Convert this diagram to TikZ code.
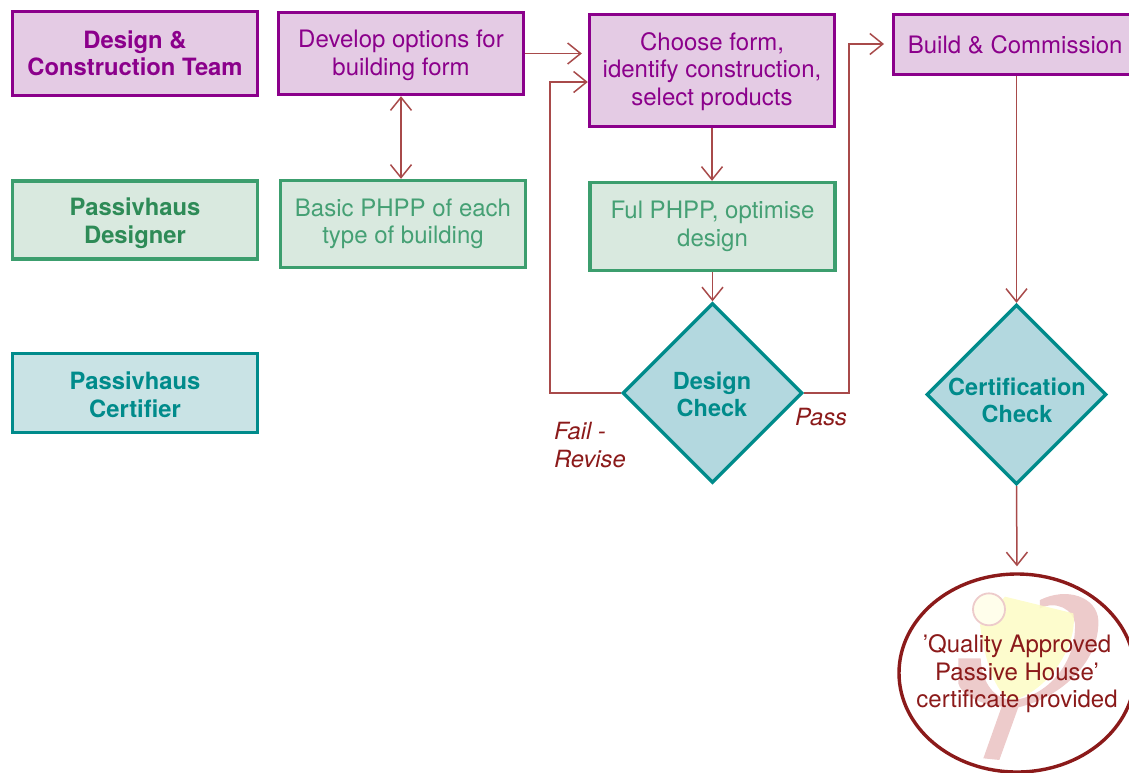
\documentclass[tikz,border=0pt]{standalone}
\usepackage{fontspec}
\setmainfont{TeX Gyre Heros}
\usetikzlibrary{arrows.meta,shapes.geometric}
\definecolor{teamink}{HTML}{8B008B}
\definecolor{teamfill}{HTML}{E4CBE4}
\definecolor{designink}{HTML}{3C9E6E}
\definecolor{designhead}{HTML}{2E8B57}
\definecolor{designtext}{HTML}{45A074}
\definecolor{designfill}{HTML}{D9E9DF}
\definecolor{certink}{HTML}{008B8B}
\definecolor{certfill}{HTML}{C9E3E5}
\definecolor{checkfill}{HTML}{B3D8DF}
\definecolor{flowink}{HTML}{A84A4A}
\definecolor{passink}{HTML}{8B1A1A}
\definecolor{logopink}{HTML}{EDCBCB}
\definecolor{logoyellow}{HTML}{FDFBC4}
\newcommand{\dropline}[1]{\rule{0pt}{#1}}
\begin{document}
\begin{tikzpicture}[x=1pt,y=-1pt,
			every node/.style={align=center,inner sep=0pt,font=\fontsize{24}{27.5}\selectfont},
			box/.style={rectangle,draw,line width=3.4pt,minimum width=245pt},
			teambox/.style={box,draw=teamink,fill=teamfill,text=teamink},
			designbox/.style={box,draw=designink,fill=designfill,text=designtext},
			certbox/.style={box,draw=certink,fill=certfill,text=certink},
			head/.style={font=\fontsize{23.8}{27.5}\selectfont\bfseries},
			check/.style={diamond,draw=certink,fill=checkfill,line width=3.4pt,minimum width=180pt,minimum height=180pt},
			checktext/.style={text=certink,font=\fontsize{23.5}{27.5}\selectfont\bfseries},
			barb/.tip={Straight Barb[length=13pt,width=21pt,line width=1.5pt]},
			flow/.style={draw=flowink,line width=1.5pt,-barb},
			outcome/.style={text=passink,font=\fontsize{23.7}{27.5}\selectfont\itshape,align=left},]
\useasboundingbox (0,0) rectangle (1129,772);
\begin{scope}[shift={(880,550)},x=0.3333pt,y=-0.3333pt]
\fill[logopink] (235,325) -- (302,325) .. controls (305,400) and (345,450) .. (400,450)
	.. controls (500,440) and (590,340) .. (585,220) .. controls (580,180) and (530,150) .. (480,175)
	-- (480,150) .. controls (560,110) and (650,140) .. (655,210) .. controls (660,330) and (550,440) .. (415,472)
	-- (358,630) -- (310,625) -- (365,470) .. controls (300,465) and (240,430) .. (235,400) -- cycle;
\fill[logoyellow,opacity=.85] (375,140) -- (580,190) .. controls (595,290) and (500,425) .. (400,450)
	.. controls (340,440) and (310,300) .. (300,225) -- cycle;
\draw[fill=yellow!8!white,draw=logopink,line width=1.8pt] (327,178) circle (48);
\end{scope}
\node[teambox,minimum height=84pt,head] (team) at (135,53.5) {Design \&\\Construction Team};
\node[teambox,minimum height=82pt] (dev) at (401,53.5) {\dropline{21pt}Develop options for\\building form};
\node[teambox,minimum height=112pt] (choose) at (712,70.5) {\dropline{19.5pt}Choose form,\\identify construction,\\select products};
\node[teambox,minimum height=60pt,anchor=west] (build) at (892,44.5) {\hspace{8pt}Build \& Commission\hspace{10pt}};
\node[designbox,minimum height=78pt,head,text=designhead] (designer) at (135,220) {\dropline{24pt}Passivhaus\\Designer};
\node[designbox,minimum height=87pt] (basic) at (403,224) {Basic PHPP of each\\type of building};
\node[designbox,minimum height=88pt] (ful) at (712.5,226.5) {Ful PHPP, optimise\\design};
\node[certbox,minimum height=79pt,head] (certifier) at (135,393) {\dropline{21pt}Passivhaus\\Certifier};
\node[check] (design) at (712.5,393) {};
\node[checktext] (designtext) at (712,394.5) {Design\\Check};
\node[check] (cert) at (1016.5,394.5) {};
\node[checktext] (certtext) at (1017,400.5) {Certification\\Check};
\node[ellipse,draw=passink,line width=3.4pt,minimum width=236pt,minimum height=198pt] (house) at (1017,673) {};
\node[text=passink] (housetext) at (1017,674) {\symbol{39}Quality Approved\\Passive House\symbol{39}\\certificate provided};
\node[outcome,anchor=west] (fail) at (554,445) {Fail -\\Revise};
\node[outcome,anchor=west] (pass) at (795,417) {Pass};
\coordinate (failturn) at (550,82);
\coordinate (passturn) at (849,44);
\draw[flow,shorten >=6pt] (dev.east) -- (dev.east -| choose.west);
\draw[flow] (design.west) -- (design.west -| failturn) -- (failturn) -- (failturn -| choose.west);
\draw[flow,shorten >=8pt] (design.east) -- (design.east -| passturn) -- (passturn) -- (passturn -| build.west);
\draw[flow,barb-barb] (dev.south) -- (dev.south |- basic.north);
\draw[flow] (choose.south) -- (choose.south |- ful.north);
\draw[flow] (ful.south) -- (ful.south |- design.north);
\draw[flow] (build.south -| cert.north) -- (cert.north);
\draw[flow,shorten >=6pt] (cert.south) -- (house.north);
\end{tikzpicture}
\end{document}
